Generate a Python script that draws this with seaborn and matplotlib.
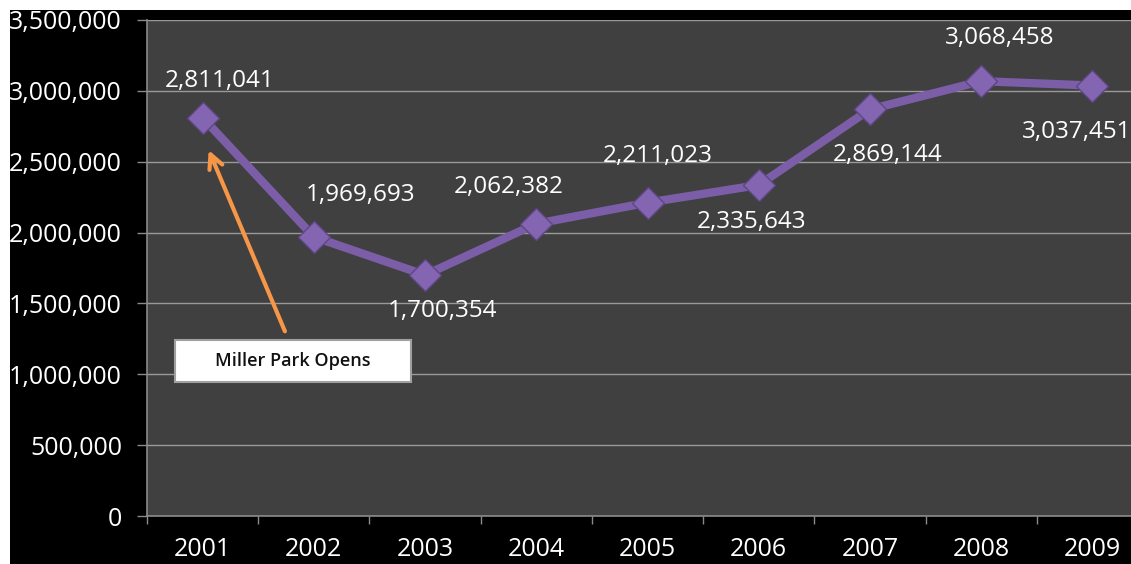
import matplotlib
matplotlib.use("Agg")
import matplotlib.pyplot as plt
import seaborn as sns
import pandas as pd
import numpy as np
from matplotlib.ticker import FuncFormatter, MultipleLocator, FixedLocator
from matplotlib.patches import Rectangle

# ---- data ----
years = ["2001", "2002", "2003", "2004", "2005", "2006", "2007", "2008", "2009"]
attendance = [2811041, 1969693, 1700354, 2062382, 2211023, 2335643, 2869144, 3068458, 3037451]
annotation_text = "Miller Park Opens"

# label offsets (pixels) for data labels
label_dx = [17, 47, 17, -28, 10, -7, 18, 19, -16]
label_dy = [37, 42, -36, 37, 47, -37, -46, 43, -46]

sns.set_theme(style="dark")
plt.rcParams['font.family'] = ['Open Sans', 'DejaVu Sans']

W, H = 1131, 564
fig = plt.figure(figsize=(W / 100, H / 100), dpi=100, facecolor='white')
fig.add_artist(Rectangle((10 / W, 0), 1, 1 - 10 / H, transform=fig.transFigure,
                         facecolor='black', edgecolor='none', zorder=-10))

ax = fig.add_axes([147 / W, 48 / H, 1001 / W, 496 / H])
ax.set_facecolor('#404040')

df = pd.DataFrame({'idx': np.arange(len(years)), 'attendance': attendance})
sns.lineplot(data=df, x='idx', y='attendance', ax=ax, color='#7b5ea7', linewidth=6,
             marker='D', markersize=16, markeredgecolor='#5e4684', markeredgewidth=1,
             markerfacecolor='#8465b2', zorder=5)

ax.set_xlim(-0.5, len(years) - 0.5)
ax.set_ylim(0, 3500000)
ax.set_xlabel("")
ax.set_ylabel("")

ax.set_xticks(np.arange(len(years)))
ax.set_xticklabels(years)
ax.xaxis.set_minor_locator(FixedLocator(np.arange(-0.5, len(years) + 0.5, 1)))
ax.tick_params(axis='x', which='major', length=0, pad=15, labelcolor='white', labelsize=18)
ax.tick_params(axis='x', which='minor', length=6, color='#8a8a8a', width=1, direction='out', bottom=True)

ax.yaxis.set_major_locator(MultipleLocator(500000))
ax.yaxis.set_major_formatter(FuncFormatter(lambda v, p: f"{int(v):,}"))
ax.tick_params(axis='y', length=7, color='#8a8a8a', width=1, direction='out', left=True,
               pad=11, labelcolor='white', labelsize=18)

ax.grid(axis='y', color='#9a9a9a', linewidth=1)
ax.grid(axis='x', visible=False)
for s in ['top', 'right']:
    ax.spines[s].set_visible(False)
for s in ['left', 'bottom']:
    ax.spines[s].set_visible(True)
    ax.spines[s].set_color('#8a8a8a')
    ax.spines[s].set_linewidth(1.2)

for i, v in enumerate(attendance):
    ax.annotate(f"{v:,}", (i, v), xytext=(label_dx[i], label_dy[i]), textcoords='offset pixels',
                ha='center', va='center', color='white', fontsize=17.5, annotation_clip=False, zorder=6)

# annotation box and arrow
ax.add_patch(Rectangle((-0.252, 946000), 2.126, 296000, facecolor='white', edgecolor='#a0a0a0',
                       linewidth=1.5, zorder=7))
ax.text(0.81, 1094000, annotation_text, ha='center', va='center', fontsize=13, color='#111111',
        fontweight='semibold', zorder=8)
ax.annotate("", xy=(0.045, 2600000), xytext=(0.75, 1285000),
            arrowprops=dict(arrowstyle='->', color='#f79646', lw=3, mutation_scale=25), zorder=8)

fig.savefig("out.png", dpi=100, facecolor=fig.get_facecolor())
